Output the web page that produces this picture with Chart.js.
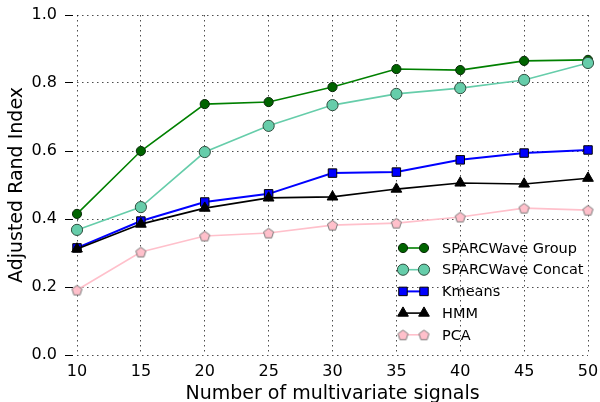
<!DOCTYPE html>
<html>
<head>
<meta charset="utf-8">
<script src="https://cdn.jsdelivr.net/npm/chart.js@4"></script>
<style>
  html, body { margin: 0; padding: 0; background: #fff; }
  #wrap { width: 600px; height: 402px; }
</style>
</head>
<body>
<div id="wrap"><canvas id="c" width="600" height="402"></canvas></div>
<script>
// Number of multivariate signals on the x axis
const signals = [10, 15, 20, 25, 30, 35, 40, 45, 50];

// Adjusted Rand Index per method
const sparcGroup  = [0.415, 0.600, 0.738, 0.744, 0.788, 0.841, 0.838, 0.865, 0.868];
const sparcConcat = [0.368, 0.435, 0.597, 0.674, 0.735, 0.768, 0.785, 0.809, 0.859];
const kmeans      = [0.315, 0.394, 0.450, 0.474, 0.535, 0.538, 0.574, 0.594, 0.603];
const hmm         = [0.312, 0.385, 0.432, 0.462, 0.465, 0.488, 0.506, 0.503, 0.520];
const pca         = [0.191, 0.303, 0.350, 0.359, 0.382, 0.388, 0.406, 0.432, 0.426];

const seriesNames = ['SPARCWave Group', 'SPARCWave Concat', 'Kmeans', 'HMM', 'PCA'];
const yTicks = [0.0, 0.2, 0.4, 0.6, 0.8, 1.0];

// pentagon marker drawn onto a small canvas
function pentagonMarker(size, fill, stroke) {
  const cv = document.createElement('canvas');
  cv.width = size; cv.height = size;
  const g = cv.getContext('2d');
  const r = size / 2 - 1.2;
  const cx = size / 2, cy = size / 2 + 0.6;
  g.beginPath();
  for (let i = 0; i < 5; i++) {
    const a = -Math.PI / 2 + i * 2 * Math.PI / 5;
    const px = cx + r * Math.cos(a), py = cy + r * Math.sin(a);
    if (i === 0) g.moveTo(px, py); else g.lineTo(px, py);
  }
  g.closePath();
  g.fillStyle = fill; g.fill();
  g.lineWidth = 1; g.strokeStyle = stroke; g.stroke();
  return cv;
}
const pentagon = pentagonMarker(13, '#ffc0cb', '#7a7a7a');

const pts = ys => signals.map((x, i) => ({ x, y: ys[i] }));

const datasets = [
  { label: seriesNames[0], data: pts(sparcGroup), borderColor: '#008000', borderWidth: 1.6,
    pointStyle: 'circle', pointRadius: 4.6, pointBackgroundColor: '#006400', pointBorderColor: '#0a2a0a', pointBorderWidth: 1, order: 5 },
  { label: seriesNames[1], data: pts(sparcConcat), borderColor: '#66cdaa', borderWidth: 1.6,
    pointStyle: 'circle', pointRadius: 5.6, pointBackgroundColor: '#66cdaa', pointBorderColor: '#2f4f3f', pointBorderWidth: 1, order: 4 },
  { label: seriesNames[2], data: pts(kmeans), borderColor: '#0000ff', borderWidth: 2,
    pointStyle: 'rect', pointRadius: 6, pointBackgroundColor: '#0000ff', pointBorderColor: '#000', pointBorderWidth: 1, order: 3 },
  { label: seriesNames[3], data: pts(hmm), borderColor: '#000000', borderWidth: 1.6,
    pointStyle: 'triangle', pointRadius: 6.2, pointBackgroundColor: '#000', pointBorderColor: '#000', pointBorderWidth: 1, order: 2 },
  { label: seriesNames[4], data: pts(pca), borderColor: '#ffc0cb', borderWidth: 1.6,
    pointStyle: pentagon, pointRadius: 6, pointBackgroundColor: '#ffc0cb', pointBorderColor: '#7a7a7a', pointBorderWidth: 1, order: 1 }
].map(d => Object.assign({ tension: 0, fill: false, clip: false, pointHoverRadius: d.pointRadius }, d));

// legend with two markers joined by a line for each series
const pairLegend = {
  id: 'pairLegend',
  afterDraw(chart) {
    const { ctx, chartArea } = chart;
    const x1 = chartArea.right - 185, x2 = chartArea.right - 164, xt = chartArea.right - 146;
    const y0 = chartArea.bottom - 107, step = 21.7;
    ctx.save();
    chart.data.datasets.forEach((ds, i) => {
      const y = y0 + i * step;
      ctx.beginPath();
      ctx.moveTo(x1, y); ctx.lineTo(x2, y);
      ctx.strokeStyle = ds.borderColor; ctx.lineWidth = ds.borderWidth; ctx.setLineDash([]);
      ctx.stroke();
      [x1, x2].forEach(x => {
        ctx.fillStyle = ds.pointBackgroundColor;
        ctx.strokeStyle = ds.pointBorderColor;
        ctx.lineWidth = ds.pointBorderWidth;
        Chart.helpers.drawPoint(ctx, { pointStyle: ds.pointStyle, radius: ds.pointRadius, rotation: 0, borderWidth: ds.pointBorderWidth }, x, y);
      });
      ctx.fillStyle = '#000';
      ctx.font = '14.5px "DejaVu Sans"';
      ctx.textAlign = 'left'; ctx.textBaseline = 'middle';
      ctx.fillText(ds.label, xt, y + 1);
    });
    ctx.restore();
  }
};

const gridStyle = { color: 'rgba(0,0,0,0.7)', lineWidth: 1 };
const borderStyle = { display: false, dash: [1.5, 3.5] };

new Chart(document.getElementById('c'), {
  type: 'line',
  data: { datasets },
  plugins: [pairLegend],
  options: {
    responsive: false,
    animation: false,
    devicePixelRatio: 1,
    layout: { padding: { top: 15, right: 12, left: 0, bottom: 0 } },
    plugins: { legend: { display: false }, tooltip: { enabled: false } },
    scales: {
      x: {
        type: 'linear', min: 10, max: 50,
        afterFit(scale) { scale.height = 47; scale.paddingLeft = 0; scale.paddingRight = 0; },
        afterBuildTicks(scale) { scale.ticks = signals.map(v => ({ value: v })); },
        grid: Object.assign({ drawTicks: false }, gridStyle),
        border: borderStyle,
        ticks: { padding: 7, color: '#000', font: { family: 'DejaVu Sans', size: 16 } },
        title: { display: true, text: 'Number of multivariate signals', color: '#000',
                 font: { family: 'DejaVu Sans', size: 19 }, padding: { top: 0, bottom: -3 } }
      },
      y: {
        type: 'linear', min: 0, max: 1,
        afterFit(scale) { scale.width = 77; scale.paddingTop = 0; scale.paddingBottom = 0; },
        afterBuildTicks(scale) { scale.ticks = yTicks.map(v => ({ value: v })); },
        grid: Object.assign({ drawTicks: true, tickLength: 12, tickColor: '#000', tickWidth: 1, tickBorderDash: [8, 20] }, gridStyle),
        border: borderStyle,
        ticks: { padding: 8, color: '#000', font: { family: 'DejaVu Sans', size: 16 },
                 callback: v => v.toFixed(1) },
        title: { display: true, text: 'Adjusted Rand Index', color: '#000',
                 font: { family: 'DejaVu Sans', size: 19 }, padding: { top: 6, bottom: 0 } }
      }
    }
  }
});
</script>
</body>
</html>
